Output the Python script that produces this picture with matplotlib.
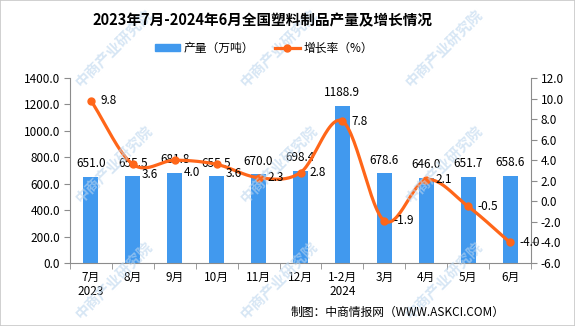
import numpy as np
import matplotlib
matplotlib.use('Agg')
import matplotlib.pyplot as plt
from matplotlib.patches import Patch
from matplotlib.lines import Line2D

plt.rcParams['font.family'] = ['Noto Sans CJK SC', 'DejaVu Sans']
plt.rcParams['axes.unicode_minus'] = False

months = ['7月\n2023', '8月', '9月', '10月', '11月', '12月', '1-2月\n2024',
          '3月', '4月', '5月', '6月']
output = [651.0, 655.5, 681.8, 655.5, 670.0, 698.4, 1188.9, 678.6, 646.0, 651.7, 658.6]
growth = [9.8, 3.6, 4.0, 3.6, 2.3, 2.8, 7.8, -1.9, 2.1, -0.5, -4.0]

bar_color = '#4199ee'
line_color = '#ff6619'
axis_color = '#8c8c8c'
fs = 8.5


def smooth(xs, ys, n=30):
    # catmull-rom curve through the points, for the smoothed line
    xs = np.asarray(xs, float)
    ys = np.asarray(ys, float)
    px = np.concatenate([[2 * xs[0] - xs[1]], xs, [2 * xs[-1] - xs[-2]]])
    py = np.concatenate([[2 * ys[0] - ys[1]], ys, [2 * ys[-1] - ys[-2]]])
    outx, outy = [], []
    t = np.linspace(0, 1, n)
    for i in range(1, len(px) - 2):
        for p, out in ((px, outx), (py, outy)):
            p0, p1, p2, p3 = p[i - 1], p[i], p[i + 1], p[i + 2]
            seg = 0.5 * ((2 * p1) + (-p0 + p2) * t + (2 * p0 - 5 * p1 + 4 * p2 - p3) * t ** 2
                         + (-p0 + 3 * p1 - 3 * p2 + p3) * t ** 3)
            out.extend(seg)
    return np.array(outx), np.array(outy)


W, H = 575, 326
fig = plt.figure(figsize=(W / 100, H / 100), dpi=100)
fig.patch.set_facecolor('white')

# watermark, tiled diagonally
for px_ in (78, 243, 408):
    for py_ in (84, 200, 316):
        fig.text(px_ / W, 1 - py_ / H, '中商产业研究院', fontsize=10.5, color='#bcd6ee',
                 alpha=0.6, rotation=45, rotation_mode='anchor', ha='left', va='center',
                 fontweight='bold', zorder=0)

ax = fig.add_axes([70 / W, 63 / H, 461 / W, 185 / H])
ax.set_facecolor('none')
x = np.arange(len(months))

ax.bar(x, output, width=0.36, color=bar_color, zorder=2)
ax.set_xlim(-0.5, len(months) - 0.5)
ax.set_ylim(0, 1400)
ax.set_yticks(np.arange(0, 1401, 200))
ax.set_yticklabels(['%.1f' % v for v in np.arange(0, 1401, 200)], fontsize=fs)
ax.set_xticks(x)
ax.set_xticklabels(months, fontsize=fs, linespacing=1.1)
ax.set_xticks(np.arange(-0.5, len(months), 1), minor=True)
ax.tick_params(axis='x', which='major', length=0, pad=6)
ax.tick_params(axis='x', which='minor', length=4, color=axis_color)
ax.tick_params(axis='y', length=4, color=axis_color, pad=3)
for s in ['top', 'right']:
    ax.spines[s].set_visible(False)
for s in ['left', 'bottom']:
    ax.spines[s].set_color(axis_color)

for xi, v in zip(x, output):
    ax.text(xi, v + 50, '%.1f' % v, ha='center', va='bottom', fontsize=fs, zorder=5)

ax2 = ax.twinx()
ax2.set_ylim(-6, 12)
ax2.set_yticks(np.arange(-6, 12.1, 2))
ax2.set_yticklabels(['%.1f' % v for v in np.arange(-6, 12.1, 2)], fontsize=fs)
ax2.tick_params(axis='y', length=4, color=axis_color, pad=3)
for s in ['top', 'left', 'bottom']:
    ax2.spines[s].set_visible(False)
ax2.spines['right'].set_color(axis_color)

sx, sy = smooth(x, growth)
ax2.plot(sx, sy, color=line_color, lw=2.3, zorder=3)
ax2.plot(x, growth, 'o', color=line_color, ms=5, zorder=4)
# a few growth labels sit a bit lower so they clear the bar labels
drop = {1: 1.0, 2: 1.15, 3: 0.85}
for i, (xi, v) in enumerate(zip(x, growth)):
    ax2.text(xi + 0.22, v - drop.get(i, 0), '%.1f' % v, ha='left', va='center',
             fontsize=fs, zorder=5)

fig.text(262 / W, 1 - 20 / H, '2023年7月-2024年6月全国塑料制品产量及增长情况', ha='center',
         va='center', fontsize=10.5, fontweight='bold')

handles = [Patch(color=bar_color),
           Line2D([0], [0], color=line_color, lw=2.3, marker='o', ms=5)]
fig.legend(handles, ['产量（万吨）', '增长率（%）'], loc='center', ncol=2,
           bbox_to_anchor=(264 / W, 1 - 48 / H), frameon=False, fontsize=fs,
           handlelength=2.1, handleheight=0.6, columnspacing=1.8, handletextpad=0.3)

fig.text(505 / W, 0.043, '制图：中商情报网（WWW.ASKCI.COM）', ha='right', va='center', fontsize=fs)

fig.add_artist(plt.Rectangle((0, 0), 1, 1, transform=fig.transFigure, fill=False,
                             edgecolor='#c8c8c8', lw=1.2))

fig.savefig('out.png', dpi=100)
